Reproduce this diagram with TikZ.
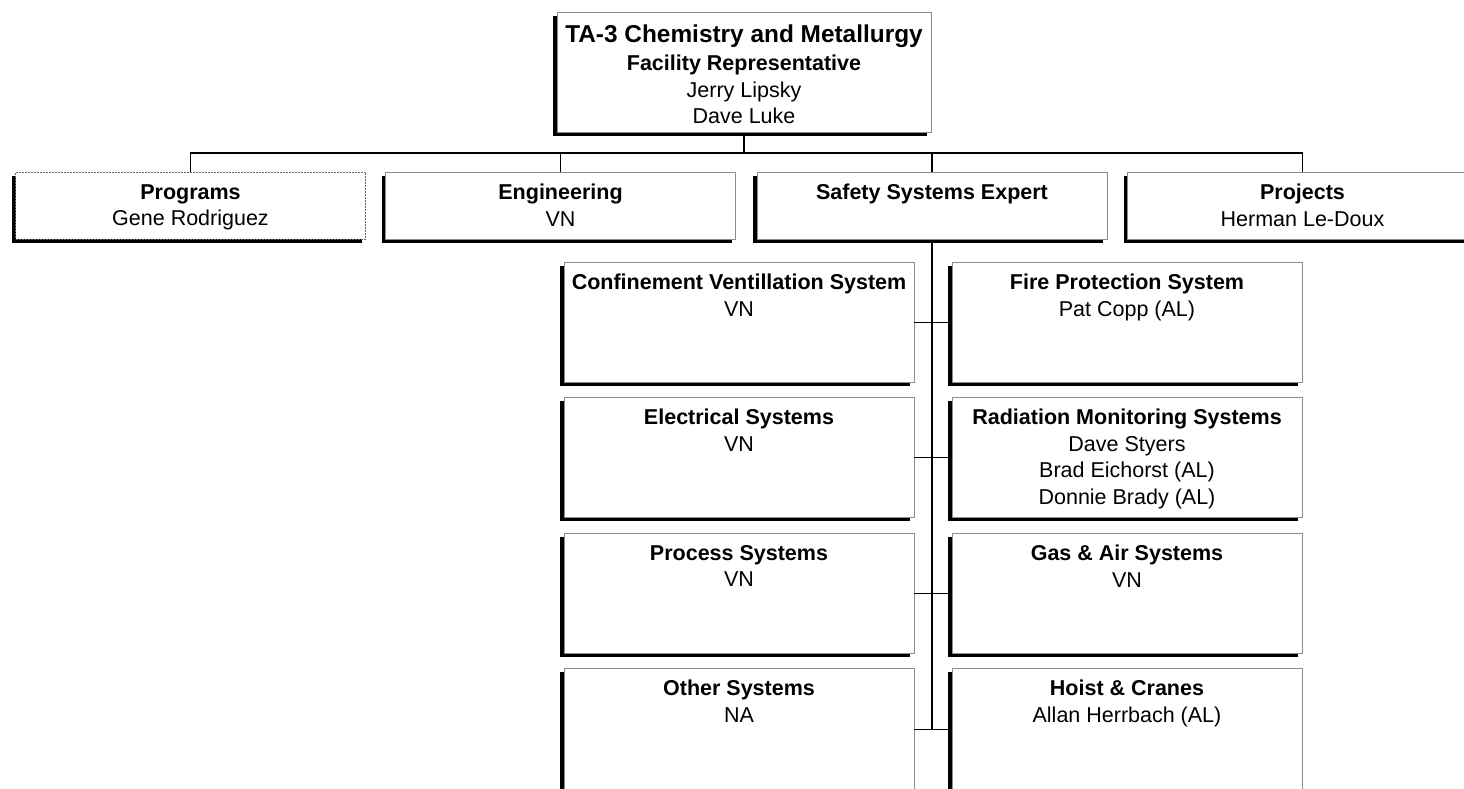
\documentclass[tikz,border=0pt]{standalone}
\usepackage{fontspec}
\setmainfont{Liberation Sans}
\usetikzlibrary{shadows}

\newcommand{\boxtext}[3][350pt]{\parbox[c][#2][t]{#1}{\centering #3}}

\begin{document}
\begin{tikzpicture}[
    x=1pt, y=-1pt,
    unitbox/.style={draw=black!45, line width=0.8pt, fill=white, inner xsep=0pt, inner ysep=12pt,
        anchor=north, font=\fontsize{21.5}{26.5}\selectfont,
        drop shadow={shadow xshift=-4pt, shadow yshift=-4pt, fill=black, opacity=1}},
    link/.style={line width=1.2pt},
]
    \clip (0, 0) rectangle (1464, 788);

    % Facility head
    \node at (744, 12) [unitbox](head){\boxtext[374pt]{96pt}{{\fontsize{24.4}{30}\selectfont\textbf{TA-3 Chemistry and Metallurgy}}\\[2pt]
        \textbf{Facility Representative}\\ Jerry Lipsky\\ Dave Luke}};

    % Second level
    \node at (190.5, 172) [unitbox, draw=black!60, dash pattern=on 2pt off 1pt](programs){\boxtext{43pt}{\textbf{Programs}\\ Gene Rodriguez}};
    \node at (560.5, 172) [unitbox](engineering){\boxtext{43pt}{\textbf{Engineering}\\ VN}};
    \node at (932, 172) [unitbox](safety){\boxtext{43pt}{\textbf{Safety Systems Expert}}};
    \node at (1302.5, 172) [unitbox](projects){\boxtext{43pt}{\textbf{Projects}\\ Herman Le-Doux}};

    % Safety systems, left column
    \node at (739, 262) [unitbox](confinement){\boxtext{96pt}{\textbf{Confinement Ventillation System}\\ VN}};
    \node at (739, 397) [unitbox](electrical){\boxtext{96pt}{\textbf{Electrical Systems}\\ VN}};
    \node at (739, 533) [unitbox](process){\boxtext{96pt}{\textbf{Process Systems}\\ VN}};
    \node at (739, 668) [unitbox](other){\boxtext{98pt}{\textbf{Other Systems}\\ NA}};

    % Safety systems, right column
    \node at (1127, 262) [unitbox](fire){\boxtext{96pt}{\textbf{Fire Protection System}\\ Pat Copp (AL)}};
    \node at (1127, 397) [unitbox](radiation){\boxtext{96pt}{\textbf{Radiation Monitoring Systems}\\ Dave Styers\\ Brad Eichorst (AL)\\ Donnie Brady (AL)}};
    \node at (1127, 533) [unitbox](gas){\boxtext{96pt}{\textbf{Gas \& Air Systems}\\ VN}};
    \node at (1127, 668) [unitbox](hoist){\boxtext{98pt}{\textbf{Hoist \& Cranes}\\ Allan Herrbach (AL)}};

    % Connectors
    \coordinate (bus) at (744, 153);
    \foreach \n in {programs, engineering, safety, projects}
        \draw [link] (\n.north) -- (\n.north |- bus) -| (head.south);
    \draw [link] (safety.south) -- (safety.south |- hoist.west);
    \foreach \l/\r in {confinement/fire, electrical/radiation, process/gas, other/hoist}
        \draw [link] (\l.east) -- (\r.west);

\end{tikzpicture}
\end{document}
